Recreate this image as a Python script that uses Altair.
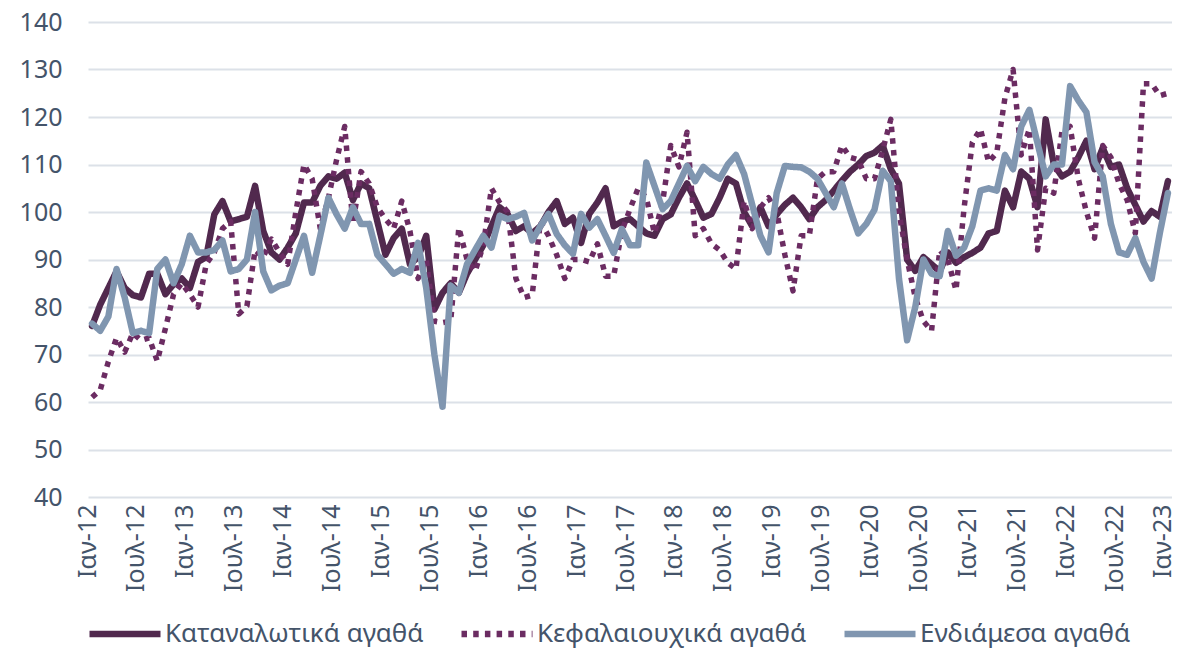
import altair as alt
import pandas as pd

month_names = ["Ιαν", "Φεβ", "Μαρ", "Απρ", "Μαϊ", "Ιουν", "Ιουλ", "Αυγ", "Σεπ", "Οκτ", "Νοε", "Δεκ"]
periods = [f"{month_names[i % 12]}-{12 + i // 12}" for i in range(133)]
tick_labels = [p for p in periods if p.startswith("Ιαν-") or p.startswith("Ιουλ-")]

series_names = ["Καταναλωτικά αγαθά", "Κεφαλαιουχικά αγαθά", "Ενδιάμεσα αγαθά"]

consumer = [
    76, 80.5, 84, 87.5, 84, 82.5, 82, 87, 87, 82.7, 84.8, 86,
    84, 89.5, 90.5, 99.5, 102.3, 98, 98.5, 99, 105.5, 96, 91.5, 90,
    92.5, 95.5, 102, 102, 105.5, 107.5, 107, 108.3, 102.5, 106, 105, 98,
    91, 94.5, 96.5, 89, 90.5, 95, 79.5, 83, 85, 83, 87, 90,
    93, 97, 101, 99.5, 96, 97, 95.5, 97, 100, 102.3, 97.5, 98.8,
    93.5, 99.6, 102, 105, 97, 98, 98.5, 97, 95.5, 95, 98.5, 99.5,
    103, 106, 102.5, 98.8, 99.6, 103, 107, 106, 100, 97, 101, 97,
    99.5, 101.5, 103, 101, 98.5, 101, 102.5, 104.5, 106.6, 108.5, 110, 111.8,
    112.5, 114, 109, 106, 90, 87.6, 90.5, 89, 87.5, 91.5, 89.3, 90.5,
    91.4, 92.5, 95.5, 96, 104.5, 101, 108.5, 107, 101, 119.5, 110, 107.5,
    108.5, 111.5, 115, 109, 113.5, 109.5, 110, 105, 101.5, 98, 100.2, 99,
    106.5,
]

capital = [
    61, 62.5, 68.5, 73.5, 70.5, 74.5, 73, 73.5, 68.6, 75.5, 82.7, 85,
    82.7, 80, 89, 91.5, 96.5, 98, 78.5, 80.2, 92, 90.5, 94.3, 91.5,
    89, 100, 110, 107, 96.5, 103, 111, 118, 97.5, 108.5, 106, 101,
    98.5, 96.5, 102.3, 96, 86, 90, 77, 76.7, 77, 96.7, 90, 87.5,
    93, 105, 102, 100, 86, 82, 82.5, 98, 95, 91, 86, 90,
    90, 89.5, 93.3, 86.5, 86.5, 96, 100.6, 105, 103, 95.5, 102, 114,
    109.5, 116.8, 95, 96.5, 93.3, 92, 89.3, 88, 102.3, 96.5, 101, 103,
    100, 91, 83.4, 95, 95, 107, 108.5, 108.5, 114, 111.5, 111, 107,
    107, 113, 119.5, 100, 90, 82, 77, 75, 92, 90, 83.5, 101,
    114.6, 117.5, 110.5, 112.5, 124, 130, 112, 117.5, 92, 105, 104, 117,
    118, 107, 100, 94.5, 114, 111.5, 106, 102.5, 95.5, 127, 127, 124.5,
    125,
]

intermediate = [
    76.5, 75, 78, 88, 82, 74.5, 75, 74.5, 88, 90, 85, 89,
    95, 91.5, 91.5, 92, 94, 87.5, 88, 90, 100, 87.5, 83.5, 84.5,
    85, 90, 95, 87.2, 95, 103, 99.5, 96.5, 101, 97.5, 97.5, 91,
    89, 87, 88, 87.2, 93.5, 84, 70, 59, 84.5, 83, 89, 92,
    95, 92.5, 99.2, 98.5, 99, 99.8, 94, 97, 99.6, 95.4, 93, 91.2,
    99.6, 96.7, 98.5, 95, 91.4, 96.4, 93, 93, 110.4, 105.5, 100.6, 102.3,
    106, 109.7, 106.5, 109.5, 108, 107, 110, 112, 108, 101.5, 95, 91.5,
    104, 109.7, 109.5, 109.4, 108.5, 107, 104, 101, 106, 100.5, 95.5, 97.5,
    100.5, 108.7, 106.5, 86, 73, 80, 90, 87, 86.5, 96, 90.8, 92.5,
    97, 104.5, 105, 104.5, 112, 109, 118, 121.5, 114.5, 107.5, 110, 110,
    126.5, 123.5, 121, 110.5, 107.5, 97.5, 91.5, 91, 94.5, 89.5, 86, 95.5,
    104,
]

y_ticks = [40, 50, 60, 70, 80, 90, 100, 110, 120, 130, 140]

colors = ["#51294E", "#6B2C62", "#8096B0"]
dashes = [[1, 0], [5.5, 6.2], [1, 0]]
widths = [6.5, 5.5, 6.5]
caps = ["round", "butt", "round"]

rows = []
for name, vals in zip(series_names, [consumer, capital, intermediate]):
    for p, v in zip(periods, vals):
        rows.append({"period": p, "value": v, "series": name})
df = pd.DataFrame(rows)

text_color = "#44546A"
font = "Noto Sans"

x_enc = alt.X(
    "period:O",
    sort=periods,
    scale=alt.Scale(type="point", padding=0.5),
    axis=alt.Axis(
        values=tick_labels,
        labelAngle=-90,
        title=None,
        grid=False,
        domain=False,
        ticks=False,
        labelPadding=7,
        labelOffset=-5,
        labelFontSize=25,
    ),
)
y_enc = alt.Y(
    "value:Q",
    scale=alt.Scale(domain=[40, 140], nice=False, zero=False),
    axis=alt.Axis(
        values=y_ticks,
        title=None,
        grid=True,
        gridColor="#DCE1E8",
        gridWidth=2,
        domain=False,
        ticks=False,
        labelPadding=26,
        labelFontSize=25,
    ),
)


def make_legend():
    return alt.Legend(
        title=None,
        orient="none",
        direction="horizontal",
        legendX=-2,
        legendY=573,
        columns=3,
        symbolType="stroke",
        symbolSize=5041,
        symbolStrokeWidth=6.5,
        labelOffset=1,
        columnPadding=24,
        labelFontSize=26,
        labelFont=font,
        labelColor=text_color,
        labelLimit=0,
    )


color_enc = alt.Color(
    "series:N",
    scale=alt.Scale(domain=series_names, range=colors),
    sort=series_names,
    legend=make_legend(),
)
dash_enc = alt.StrokeDash(
    "series:N",
    scale=alt.Scale(domain=series_names, range=dashes),
    sort=series_names,
    legend=make_legend(),
)

layers = []
for name, w, cap in zip(series_names, widths, caps):
    layers.append(
        alt.Chart(df)
        .transform_filter(alt.datum.series == name)
        .mark_line(strokeWidth=w, strokeCap=cap, strokeJoin="round")
        .encode(x=x_enc, y=y_enc, color=color_enc, strokeDash=dash_enc)
    )

chart = (
    alt.layer(*layers)
    .properties(
        width=1084,
        height=475,
        autosize=alt.AutoSizeParams(type="none"),
        padding={"left": 80, "top": 14, "right": 0, "bottom": 151},
        background="white",
    )
    .configure_view(stroke=None)
    .configure_axis(labelFont=font, labelColor=text_color)
    .configure_legend(labelFont=font, labelColor=text_color)
)

chart.save("out.html", embed_options={"renderer": "svg", "actions": False})
